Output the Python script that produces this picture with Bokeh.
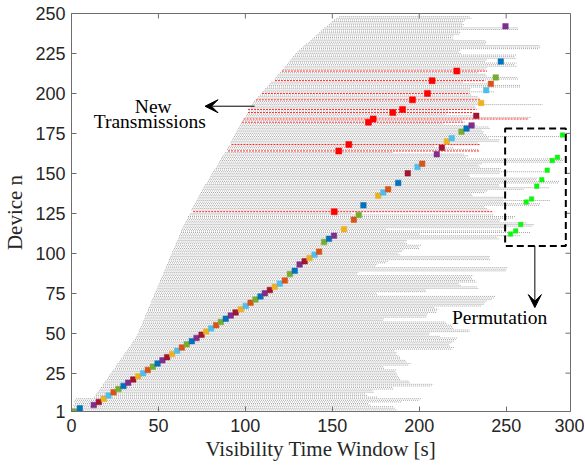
from bokeh.plotting import figure
from bokeh.models import (ColumnDataSource, Range1d, FixedTicker, Label,
                          Arrow, VeeHead, BoxAnnotation)
from bokeh.embed import file_html
from bokeh.resources import INLINE

# ---------------- data ----------------
# visibility window start / end [s] for devices n = 1..248
win_start = [
    1, 1, 0.5, 1.5, 1, 2, 1.5, 2, 2.5,
    13, 14, 14, 15, 16, 16.5, 17, 18, 18, 19,
    19.5, 20.5, 21, 21.5, 22, 23, 23.5, 24, 25, 25.5,
    26, 26.5, 27.5, 28, 28.5, 29.5, 30, 30.5, 31, 32,
    32.5, 33, 34, 34.5, 35, 35.5, 36.5, 37, 37.5, 38,
    38.5, 39, 39, 39.5, 40, 40.5, 41, 41, 41.5, 42,
    42.5, 42.5, 43, 43.5, 44, 44, 44.5, 45, 45.5, 46,
    46, 46.5, 47, 47.5, 47.5, 48, 48.5, 49, 49.5, 49.5,
    50, 50.5, 51, 51, 51.5, 52, 52.5, 53, 53, 53.5,
    54, 54.5, 54.5, 55, 55.5, 56, 56, 56.5, 57, 57.5,
    58, 58, 58.5, 59, 59.5, 60, 60, 60.5, 61, 61.5,
    62, 62, 62.5, 63, 63, 63.5, 64, 64.5, 65, 65.5,
    66, 66.5, 67, 67, 68, 68.5, 70, 69, 69.5, 70,
    70.5, 71, 71.5, 72, 72.5, 73, 73.5, 74, 74.5, 75,
    75.5, 76, 76.5, 77, 78, 78.5, 79, 79.5, 80, 80.5,
    81, 81.5, 82, 83, 83.5, 84, 84.5, 85, 85.5, 86,
    86.5, 87, 88, 88.5, 90, 89.5, 90, 90.5, 92, 91.5,
    92, 92.5, 93, 93.5, 94, 94.5, 95, 95.5, 96, 96.5,
    97, 97.5, 98, 98.5, 99, 100, 100.5, 101, 101.5, 102,
    101.5, 103, 103.5, 104, 104.5, 105, 106, 107, 107.5, 108.5,
    109.5, 110, 111, 111.5, 112.5, 113.5, 114, 115, 117, 117,
    117.5, 118.5, 119, 120, 121, 121.5, 122.5, 123, 124, 124.5,
    125.5, 126, 127, 127.5, 128.5, 129, 130, 131, 132, 133,
    134, 135, 136.5, 137.5, 138.5, 139.5, 140.5, 141.5, 142.5, 143.5,
    144.5, 145.5, 147, 148, 149, 150, 151, 152.5, 154,
]
win_end = [
    179, 187, 186, 185, 172, 171, 190, 200, 201,
    176, 170, 169, 174, 173, 185, 185, 207, 208, 195,
    194, 189, 189, 188, 187, 187, 186, 187, 180, 179,
    194, 195, 193, 192, 189, 189, 188, 187, 187, 186,
    219, 220, 218, 217, 219, 220, 221, 222, 212, 206,
    206, 229, 229, 220, 219, 219, 216, 215, 179, 180,
    204, 204, 205, 210, 210, 211, 209, 236, 237, 238,
    239, 242, 243, 244, 176, 175, 204, 204, 234, 233,
    224, 223, 233, 232, 231, 230, 231, 164, 165, 250,
    250, 251, 175, 176, 181, 182, 241, 240, 241, 189,
    188, 190, 191, 200, 200, 201, 193, 192, 193, 246,
    245, 258, 200, 264, 248, 181, 250, 265, 266, 262,
    246, 247, 254, 255, 243, 161, 242, 240, 239, 238,
    269, 270, 248, 275, 248, 249, 231, 230, 238, 239,
    260, 275, 246, 246, 280, 281, 267, 268, 229, 229,
    246, 275, 246, 247, 235, 234, 236, 282, 283, 283,
    227, 228, 226, 185, 235, 234, 220, 209, 235, 234,
    246, 246, 240, 285, 239, 237, 237, 236, 241, 240,
    233, 214, 226, 225, 263, 264, 232, 216, 231, 217,
    233, 233, 232, 271, 234, 233, 235, 235, 234, 230,
    229, 243, 229, 230, 258, 258, 240, 225, 238, 257,
    256, 239, 238, 234, 239, 238, 239, 256, 255, 256,
    238, 239, 256, 255, 256, 224, 223, 224, 269, 270,
    269, 238, 239, 238, 220, 219, 220, 223, 224, 223,
    257, 257, 225, 226, 225, 226, 227, 230, 229,
]
# devices whose window is drawn in red (new transmissions)
new_tx_devices = [126, 164, 168, 182, 184, 188, 190, 196, 200, 208, 214]

# scheduled transmissions along the diagonal
diag_time = [1.5, 4.8, 12.8, 15.7, 18.6, 21.3, 24.2, 27.0, 29.9, 32.6, 35.5, 38.4,
             41.2, 43.9, 46.8, 49.5, 52.3, 55.0, 57.9, 60.8, 63.5, 66.3, 69.2, 71.9,
             74.8, 77.5, 80.3, 83.2, 85.9, 88.7, 91.6, 94.4, 97.4, 100.2, 103.0, 105.8,
             108.7, 111.2, 114.1, 116.9, 119.8, 122.7, 125.6, 128.4, 131.2, 134.1, 136.9,
             139.8, 142.4, 145.3, 148.1, 151.0, 156.7, 162.4, 165.2, 167.9, 176.4, 179.3,
             182.1, 187.9, 193.4, 199.0, 201.7, 210.1, 213.0, 215.9, 218.7, 224.3, 227.2,
             230.1, 232.8, 235.6, 238.5, 241.2, 244.0, 246.9, 249.6]
diag_device = [1, 3, 5, 7, 9, 11, 13, 15, 17, 19, 21, 23,
               25, 27, 29, 31, 33, 35, 37, 39, 41, 43, 45, 47,
               49, 51, 53, 55, 57, 59, 61, 63, 65, 67, 69, 71,
               73, 75, 77, 79, 81, 83, 87, 89, 93, 95, 97,
               99, 101, 107, 109, 111, 115, 121, 124, 130, 136, 138,
               140, 144, 150, 154, 156, 162, 166, 170, 172, 176, 178,
               180, 186, 194, 202, 206, 210, 220, 242]
diag_colour = ["green", "blue", "purple", "darkred", "yellow", "lightblue", "orange",
               "green", "blue", "purple", "darkred", "yellow", "lightblue", "orange",
               "green", "blue", "purple", "darkred", "yellow", "lightblue", "orange",
               "green", "blue", "purple", "darkred", "yellow", "lightblue", "orange",
               "green", "blue", "purple", "darkred", "yellow", "lightblue", "orange",
               "green", "blue", "purple", "darkred", "yellow", "lightblue", "orange",
               "green", "blue", "purple", "darkred", "yellow", "lightblue", "orange",
               "green", "blue", "purple", "yellow", "orange", "green", "blue",
               "yellow", "lightblue", "orange", "blue", "darkred", "lightblue", "orange",
               "purple", "darkred", "yellow", "lightblue", "green", "blue", "purple",
               "darkred", "yellow", "lightblue", "orange", "green", "blue", "purple"]

# new transmissions (red)
new_time = [151.1, 153.7, 159.5, 170.8, 173.5, 184.8, 190.4, 196.1, 204.7, 207.4, 221.6]
new_device = [126, 164, 168, 182, 184, 188, 190, 196, 200, 208, 214]

# permuted transmissions (green)
perm_time = [252.5, 255.5, 258.4, 261.5, 264.6, 267.6, 270.5, 273.6, 276.5, 279.5, 282.4]
perm_device = [112, 114, 118, 132, 134, 142, 146, 152, 158, 160, 174]

x_ticks = [0, 50, 100, 150, 200, 250, 287]
x_tick_labels = {287: "300"}
y_ticks = [1, 25, 50, 75, 100, 125, 150, 175, 200, 225, 250]

palette = {"blue": "#0072BD", "orange": "#D95319", "yellow": "#EDB120",
           "purple": "#7E2F8E", "green": "#77AC30", "lightblue": "#4DBEEE",
           "darkred": "#A2142F"}

# ---------------- figure ----------------
FW, FH = 499, 398
X0, X1, Y0, Y1 = 0, 287, 1, 250
p = figure(frame_width=FW, frame_height=FH,
           x_range=Range1d(X0, X1), y_range=Range1d(Y0, Y1),
           output_backend="svg", toolbar_location=None,
           min_border_left=70, min_border_right=14, min_border_top=13, min_border_bottom=50)
p.grid.visible = False
axis_col = "#6e6e6e"
p.outline_line_color = axis_col
p.outline_line_width = 1
p.background_fill_color = "white"

devices = list(range(1, len(win_start) + 1))
g_xs, g_ys, r_xs, r_ys = [], [], [], []
for n, s, e in zip(devices, win_start, win_end):
    if n in new_tx_devices:
        r_xs.append([s, e]); r_ys.append([n, n])
    else:
        g_xs.append([s, e]); g_ys.append([n, n])

p.multi_line(xs=g_xs, ys=g_ys, line_color="#7d7d7d", line_width=0.7, line_dash="1 1")
p.multi_line(xs=r_xs, ys=r_ys, line_color="#ff0000", line_width=0.9, line_dash="2 1")

dsrc = ColumnDataSource(dict(x=diag_time, y=diag_device,
                             c=[palette[c] for c in diag_colour]))
p.scatter("x", "y", source=dsrc, marker="square", size=5.5,
          fill_color="c", line_color="c", line_width=0.5)
p.scatter(new_time, new_device, marker="square", size=6,
          fill_color="#ff0000", line_color="#ff0000", line_width=0.5)
p.scatter(perm_time, perm_device, marker="square", size=4.5,
          fill_color="#00ff00", line_color="#33dd33", line_width=0.5)

# inward ticks on the top and right edges (box on)
tlx = 5 * (X1 - X0) / FW
tly = 5 * (Y1 - Y0) / FH
p.segment(x0=x_ticks, y0=[Y1] * len(x_ticks), x1=x_ticks, y1=[Y1 - tly] * len(x_ticks),
          line_color=axis_col, line_width=1)
p.segment(x0=[X1] * len(y_ticks), y0=y_ticks, x1=[X1 - tlx] * len(y_ticks), y1=y_ticks,
          line_color=axis_col, line_width=1)

# dashed box and annotations
p.add_layout(BoxAnnotation(left=249.4, right=284.3, bottom=104.6, top=178,
                           fill_alpha=0, line_color="black", line_alpha=1.0,
                           line_width=2, line_dash="7 4"))
p.add_layout(Arrow(end=VeeHead(size=13, fill_color="black", line_color="black"),
                   x_start=105.3, y_start=192, x_end=76.8, y_end=192,
                   line_color="black", line_width=1))
p.add_layout(Arrow(end=VeeHead(size=13, fill_color="black", line_color="black"),
                   x_start=266.5, y_start=104.6, x_end=266.5, y_end=66,
                   line_color="black", line_width=1))

serif = "Liberation Serif"
for txt, x, y in [("New", 47, 192), ("Transmissions", 45, 182.7), ("Permutation", 246.2, 59.6)]:
    p.add_layout(Label(x=x, y=y, text=txt, text_font=serif, text_font_size="19.5px",
                       text_align="center", text_baseline="middle", text_color="black"))

xt = FixedTicker(ticks=x_ticks)
yt = FixedTicker(ticks=y_ticks)
for ax, tk in [(p.xaxis[0], xt), (p.yaxis[0], yt)]:
    ax.ticker = tk
    ax.axis_line_color = axis_col
    ax.major_tick_line_color = axis_col
    ax.major_tick_in = 5
    ax.major_tick_out = 0
    ax.minor_tick_line_color = None
    ax.major_label_text_font = "Liberation Sans"
    ax.major_label_text_font_size = "18px"
    ax.major_label_text_color = "#262626"
    ax.axis_label_text_font = serif
    ax.axis_label_text_font_style = "normal"
    ax.axis_label_text_font_size = "21px"
    ax.axis_label_text_color = "#262626"
p.xaxis[0].major_label_overrides = x_tick_labels
p.xaxis[0].major_label_standoff = 7
p.yaxis[0].major_label_standoff = 6
p.xaxis[0].axis_label = "Visibility Time Window [s]"
p.xaxis[0].axis_label_standoff = 2
p.yaxis[0].axis_label = "Device n"
p.yaxis[0].axis_label_standoff = 5

open("out.html", "w").write(file_html(p, INLINE))
